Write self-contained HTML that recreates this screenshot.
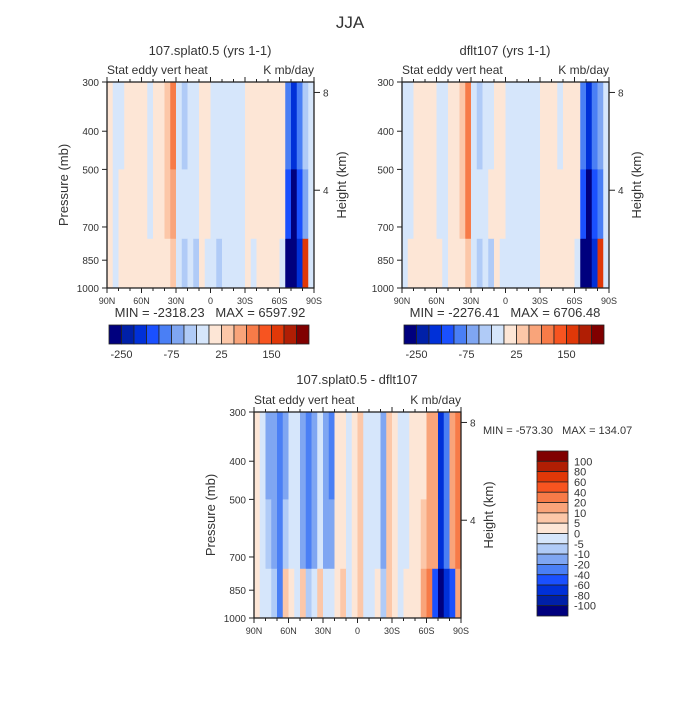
<!DOCTYPE html>
<html><head><meta charset="utf-8">
<style>
html,body{margin:0;padding:0;background:#fff;}
svg text{font-family:"Liberation Sans",sans-serif;fill:#333;white-space:pre;}
</style></head>
<body>
<svg id="fig" width="700" height="700" viewBox="0 0 700 700" xmlns="http://www.w3.org/2000/svg">
<text x="350" y="28" font-size="17" text-anchor="middle">JJA</text>
</svg>
<script>
// ---- data ----
const latTicks = ["90N","60N","30N","0","30S","60S","90S"];
const presTicks = [300,400,500,700,850,1000];
const heightTicks = [8,4];
const levelsTop = [-250,-200,-150,-100,-75,-50,-25,0,25,50,75,100,150,200,250];
const levelsDiff = [-100,-80,-60,-40,-20,-10,-5,0,5,10,20,40,60,80,100];
const topLabels = ["-250","-75","25","150"];
const topLabelIdx = [0,4,8,12];
const diffLabels = ["100","80","60","40","20","10","5","0","-5","-10","-20","-40","-60","-80","-100"];
// columns: 5-degree strips from 90N to 90S; bands: upper(300-500), mid(500-750), lower(750-1000)
const tlUpper = [10,-10,-10,10,10,10,10,-10,10,10,30,80,-10,-30,-10,-10,10,10,-10,-10,-10,-10,-10,-10,10,10,10,10,10,10,10,-80,-200,-100,-50,-10];
const tlMid   = [10,-10,10,10,10,10,10,-10,10,10,30,60,-10,-10,-10,-10,10,10,-10,-10,-10,-10,-10,-10,10,10,10,10,10,10,10,-150,-300,-150,-60,-10];
const tlLower = [10,-10,10,10,10,10,10,10,10,10,10,30,-10,-30,-10,-30,10,-10,-10,-30,-10,-10,-10,-10,10,-10,10,10,10,10,-10,-300,-300,-200,160,-10];
const trUpper = [-10,-10,10,10,10,10,-10,-10,10,10,30,80,-10,-30,-10,-10,10,10,-10,-10,-10,-10,-10,-10,10,10,10,-10,10,10,10,-100,-200,-100,-60,-10];
const trMid   = [-10,-10,10,10,10,10,-10,-10,10,10,30,80,-10,-10,-10,10,10,10,-10,-10,-10,-10,-10,-10,10,10,10,10,10,10,10,-150,-300,-150,-80,-10];
const trLower = [-10,10,10,10,10,10,10,-10,10,10,10,30,-10,-30,-10,-30,10,-10,-10,-10,-10,-10,-10,-10,10,10,10,10,10,10,-10,-300,-300,-200,160,-10];
const dUpper = [3,-3,-15,-15,-25,-15,-3,-3,-15,-25,-15,-3,-15,-25,3,3,-3,3,7,-3,-3,-3,-15,7,3,-3,-3,3,3,3,15,15,-70,-30,15,30];
const dMid   = [3,-3,-7,-15,-25,-7,-3,-3,-15,-25,-15,-3,-15,-15,3,3,-3,3,7,-3,-3,-3,-15,7,3,-3,-3,3,3,7,15,15,-70,-30,15,30];
const dLower = [3,-3,-3,-7,-25,7,3,-3,7,-7,-3,7,-3,-3,3,7,-3,3,7,-3,-3,3,-7,7,3,-3,3,3,3,15,30,-60,-110,-70,-50,15];
const colors = ["#00007e","#0020a8","#0030d8","#1a50ff","#4a7ff5","#7fa6f2","#b0cbf7","#d6e6fb","#fde6d6","#fcc7a8","#f9a47a","#f77b48","#f75420","#e03808","#b01e04","#800000"];

// ---- helpers ----
const svg = document.getElementById('fig');
const NS = "http://www.w3.org/2000/svg";
function mk(tag, attrs){const e=document.createElementNS(NS,tag);for(const k in attrs)e.setAttribute(k,attrs[k]);svg.appendChild(e);return e;}
function colorFor(v,levels){let i=0;while(i<levels.length&&v>=levels[i])i++;return colors[i];}

function panel(px,py,upper,mid,lower,levels,prefix,showP){
  const W=207,H=206;
  const xS=lat=>px+(90-lat)/180*W;
  const yS=p=>py+H*Math.log(p/300)/Math.log(1000/300);
  const bands=[[300,500,upper],[500,750,mid],[750,1000,lower]];
  bands.forEach(b=>{
    b[2].forEach((v,i)=>{
      const x0=xS(90-5*i), x1=xS(85-5*i);
      const r=mk('rect',{x:x0,y:yS(b[0]),width:x1-x0+0.4,height:yS(b[1])-yS(b[0])+0.4,fill:colorFor(v,levels)});
      
      
    });
  });
  const fr=mk('rect',{x:px,y:py,width:W,height:H,fill:'none',stroke:'#222','stroke-width':1.3});
  
  
  latTicks.forEach((t,i)=>{
    const x=px+i*W/6;
    mk('line',{x1:x,y1:py+H,x2:x,y2:py+H+5,stroke:'#222'});
    mk('line',{x1:x,y1:py,x2:x,y2:py-5,stroke:'#222'});
    const tx=mk('text',{x:x,y:py+H+16,'font-size':9,'text-anchor':'middle'});
    tx.textContent=t;
    
    
  });
  for(let l=80;l>=-80;l-=10){if(l%30){const x=xS(l);mk('line',{x1:x,y1:py+H,x2:x,y2:py+H+3,stroke:'#222'});mk('line',{x1:x,y1:py,x2:x,y2:py-3,stroke:'#222'});}}
  presTicks.forEach(p=>{
    const y=yS(p);
    mk('line',{x1:px,y1:y,x2:px-5,y2:y,stroke:'#222'});
    const tx=mk('text',{x:px-8,y:y+4,'font-size':10,'text-anchor':'end'});
    tx.textContent=p;
    
    
  });
  heightTicks.forEach(h=>{
    const p=1000*Math.exp(-h/7); const y=yS(p);
    mk('line',{x1:px+W,y1:y,x2:px+W+6,y2:y,stroke:'#222'});
    const tx=mk('text',{x:px+W+9,y:y+4,'font-size':10});
    tx.textContent=h;
    
    
  });
  if(showP){
    const yl=mk('text',{x:0,y:0,'font-size':13,'text-anchor':'middle',transform:`translate(${px-39},${py+H/2}) rotate(-90)`});
    yl.textContent='Pressure (mb)';
    
    
  }
  const hl=mk('text',{x:0,y:0,'font-size':13,'text-anchor':'middle',transform:`translate(${px+W+32},${py+H/2}) rotate(-90)`});
  hl.textContent='Height (km)';
  
  
  const s1=mk('text',{x:px,y:py-8,'font-size':12});
  s1.textContent='Stat eddy vert heat';
  
  
  const s2=mk('text',{x:px+W,y:py-8,'font-size':12,'text-anchor':'end'});
  s2.textContent='K mb/day';
  
  
}
function title(x,y,t,name){const e=mk('text',{x:x,y:y,'font-size':13,'text-anchor':'middle'});e.textContent=t;}

function hbar(x,y,prefix){
  const w=200/16;
  colors.forEach((c,i)=>{const r=mk('rect',{x:x+i*w,y:y,width:w,height:19,fill:c,stroke:'#222','stroke-width':0.8});
    
    });
  topLabels.forEach((t,k)=>{const e=mk('text',{x:x+(topLabelIdx[k]+1)*w,y:y+33,'font-size':11,'text-anchor':'middle'});e.textContent=t;
    
    });
}

// ---- build ----
title(210,55,'107.splat0.5 (yrs 1-1)','left-panel-title');
title(505,55,'dflt107 (yrs 1-1)','right-panel-title');
title(357,384,'107.splat0.5 - dflt107','diff-panel-title');
panel(107,82,tlUpper,tlMid,tlLower,levelsTop,'splat-panel',true);
panel(402,82,trUpper,trMid,trLower,levelsTop,'dflt-panel',false);
panel(254,412,dUpper,dMid,dLower,levelsDiff,'diff-panel',true);
title(210,317,'MIN = -2318.23   MAX = 6597.92','splat-minmax');
title(505,317,'MIN = -2276.41   MAX = 6706.48','dflt-minmax');
const mm=mk('text',{x:483,y:434,'font-size':11});mm.textContent='MIN = -573.30   MAX = 134.07';


hbar(109,325,'splat');
hbar(404,325,'dflt');
const vh=165/16;
colors.slice().reverse().forEach((c,i)=>{const r=mk('rect',{x:537,y:451+i*vh,width:31,height:vh,fill:c,stroke:'#222','stroke-width':0.8});
  
  });
diffLabels.forEach((t,i)=>{const e=mk('text',{x:574,y:451+(i+1)*vh+4,'font-size':11});e.textContent=t;
  
  });
</script>
</body></html>
